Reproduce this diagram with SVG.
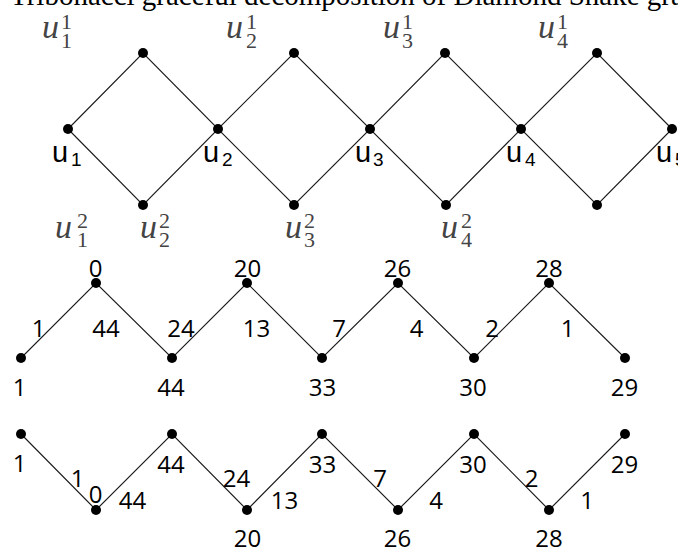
<svg xmlns="http://www.w3.org/2000/svg" width="678" height="549" viewBox="0 0 678 549">
<style>
.e{stroke:#1a1a1a;stroke-width:1.1;fill:none}
.d{fill:#000}
.t{font-family:"Liberation Serif","Times New Roman",serif;font-size:29px;fill:#000}
.lu{font-family:"Liberation Serif",serif;font-style:italic;font-size:34px;fill:#444}
.ld{font-family:"Liberation Serif",serif;font-size:22px;fill:#444}
.su{font-family:"Liberation Sans",Arial,sans-serif;font-size:29px;fill:#000}
.sd{font-family:"Liberation Sans",Arial,sans-serif;font-size:19px;fill:#000}
.n{font-family:"Open Sans","Liberation Sans",sans-serif;font-size:24px;fill:#000;text-anchor:middle}
</style>
<rect width="678" height="549" fill="#fff"/>
<text class="t" x="10" y="5">Tribonacci graceful decomposition of Diamond Snake graph</text>

<g id="connectors">
<path class="e" d="M68,129 L143,53 L218,129 L294,53 L370,129 L445,53 L521,129 L597,53 L672,129"/>
<path class="e" d="M68,129 L143,205 L218,129 L294,205 L370,129 L446,205 L521,129 L597,205 L672,129"/>
<polyline class="e" points="21,358 96,283 172,358 247,283 322,358 398,283 474,358 549,283 625,358"/>
<polyline class="e" points="21,434 96,510 172,434 247,510 322,434 398,510 474,434 549,510 625,434"/>
</g>

<g id="diamond-nodes">
<g id="u1"><circle class="d" cx="68" cy="129" r="5"/><text class="su" x="52" y="162">u</text><text class="sd" x="71" y="166">1</text></g>
<g id="u2"><circle class="d" cx="218" cy="129" r="5"/><text class="su" x="203" y="162">u</text><text class="sd" x="222" y="166">2</text></g>
<g id="u3"><circle class="d" cx="370" cy="129" r="5"/><text class="su" x="355" y="162">u</text><text class="sd" x="373" y="166">3</text></g>
<g id="u4"><circle class="d" cx="521" cy="129" r="5"/><text class="su" x="506" y="162">u</text><text class="sd" x="525" y="166">4</text></g>
<g id="u5"><circle class="d" cx="672" cy="129" r="5"/><text class="su" x="656" y="162">u</text><text class="sd" x="675" y="166">5</text></g>
<g id="u11"><circle class="d" cx="143" cy="53" r="5"/><text class="lu" x="42" y="38">u</text><text class="ld" x="61" y="29">1</text><text class="ld" x="61" y="48">1</text></g>
<g id="u21"><circle class="d" cx="294" cy="53" r="5"/><text class="lu" x="226" y="38">u</text><text class="ld" x="246" y="29">1</text><text class="ld" x="246" y="48">2</text></g>
<g id="u31"><circle class="d" cx="445" cy="53" r="5"/><text class="lu" x="383" y="38">u</text><text class="ld" x="402" y="29">1</text><text class="ld" x="402" y="48">3</text></g>
<g id="u41"><circle class="d" cx="597" cy="53" r="5"/><text class="lu" x="538" y="38">u</text><text class="ld" x="557" y="29">1</text><text class="ld" x="557" y="48">4</text></g>
<g id="u12"><text class="lu" x="55" y="238">u</text><text class="ld" x="77" y="228">2</text><text class="ld" x="77" y="247">1</text></g>
<g id="u22"><circle class="d" cx="143" cy="205" r="5"/><text class="lu" x="140" y="238">u</text><text class="ld" x="159" y="228">2</text><text class="ld" x="159" y="247">2</text></g>
<g id="u32"><circle class="d" cx="294" cy="205" r="5"/><text class="lu" x="285" y="238">u</text><text class="ld" x="304" y="228">2</text><text class="ld" x="304" y="247">3</text></g>
<g id="u42"><circle class="d" cx="446" cy="205" r="5"/><text class="lu" x="441" y="238">u</text><text class="ld" x="461" y="228">2</text><text class="ld" x="461" y="247">4</text></g>
<g id="b5"><circle class="d" cx="597" cy="205" r="5"/></g>
</g>

<g id="path1-nodes">
<g id="p1a"><circle class="d" cx="21" cy="358" r="5"/><text class="n" x="19.5" y="396">1</text></g>
<g id="p1b"><circle class="d" cx="96" cy="283" r="5"/><text class="n" x="95.5" y="277">0</text></g>
<g id="p1c"><circle class="d" cx="172" cy="358" r="5"/><text class="n" x="171" y="396">44</text></g>
<g id="p1d"><circle class="d" cx="247" cy="283" r="5"/><text class="n" x="247.5" y="277">20</text></g>
<g id="p1e"><circle class="d" cx="322" cy="358" r="5"/><text class="n" x="322.5" y="396">33</text></g>
<g id="p1f"><circle class="d" cx="398" cy="283" r="5"/><text class="n" x="397.5" y="277">26</text></g>
<g id="p1g"><circle class="d" cx="474" cy="358" r="5"/><text class="n" x="473" y="396">30</text></g>
<g id="p1h"><circle class="d" cx="549" cy="283" r="5"/><text class="n" x="549" y="277">28</text></g>
<g id="p1i"><circle class="d" cx="625" cy="358" r="5"/><text class="n" x="624.5" y="396">29</text></g>
<g id="p1-edge-labels">
<text class="n" x="38.5" y="337">1</text><text class="n" x="106" y="337">44</text>
<text class="n" x="181" y="337">24</text><text class="n" x="256.5" y="337">13</text>
<text class="n" x="339" y="337">7</text><text class="n" x="416.5" y="337">4</text>
<text class="n" x="492" y="337">2</text><text class="n" x="567.5" y="337">1</text>
</g>
</g>

<g id="path2-nodes">
<g id="p2a"><circle class="d" cx="21" cy="434" r="5"/><text class="n" x="19.5" y="472">1</text></g>
<g id="p2b"><circle class="d" cx="96" cy="510" r="5"/><text class="n" x="95.5" y="503">0</text></g>
<g id="p2c"><circle class="d" cx="172" cy="434" r="5"/><text class="n" x="171" y="473">44</text></g>
<g id="p2d"><circle class="d" cx="247" cy="510" r="5"/><text class="n" x="247.5" y="547">20</text></g>
<g id="p2e"><circle class="d" cx="322" cy="434" r="5"/><text class="n" x="322.5" y="473">33</text></g>
<g id="p2f"><circle class="d" cx="398" cy="510" r="5"/><text class="n" x="397.5" y="547">26</text></g>
<g id="p2g"><circle class="d" cx="474" cy="434" r="5"/><text class="n" x="473" y="473">30</text></g>
<g id="p2h"><circle class="d" cx="549" cy="510" r="5"/><text class="n" x="549" y="547">28</text></g>
<g id="p2i"><circle class="d" cx="625" cy="434" r="5"/><text class="n" x="624.5" y="473">29</text></g>
<g id="p2-edge-labels">
<text class="n" x="77.5" y="487">1</text><text class="n" x="132.5" y="509">44</text>
<text class="n" x="236.5" y="487">24</text><text class="n" x="284.5" y="509">13</text>
<text class="n" x="380" y="487">7</text><text class="n" x="436" y="509">4</text>
<text class="n" x="531.5" y="487">2</text><text class="n" x="587" y="509">1</text>
</g>
</g>
</svg>
